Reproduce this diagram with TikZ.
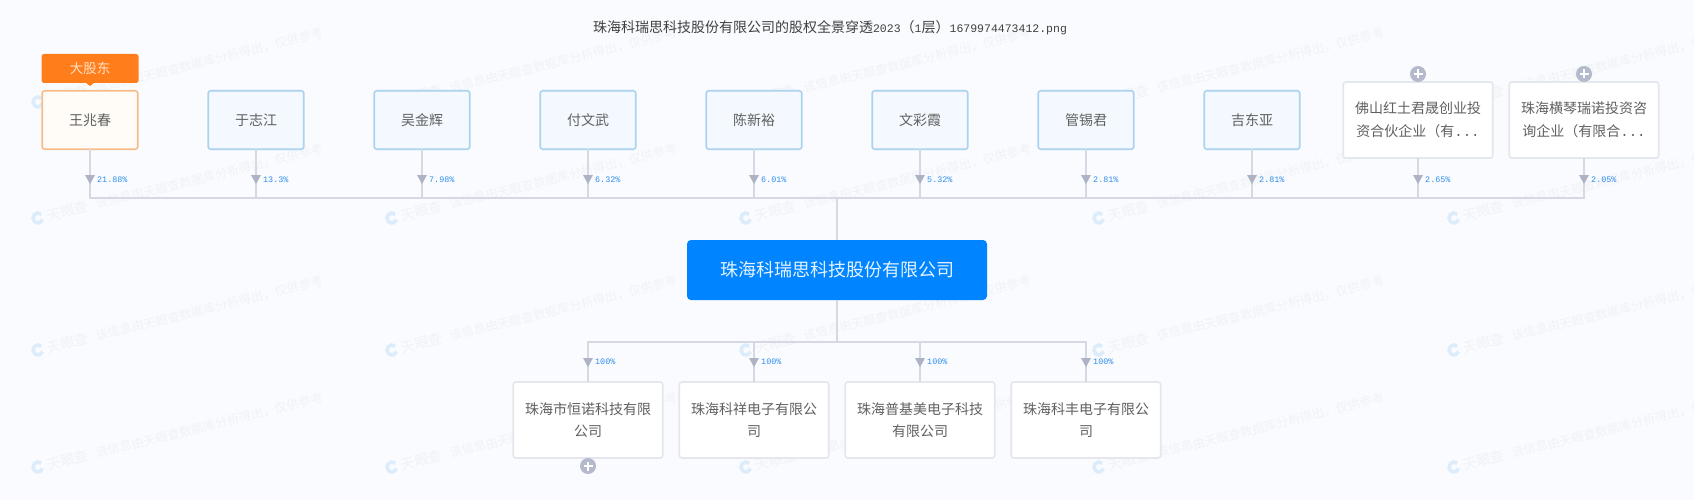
\documentclass[tikz,border=0pt]{standalone}
\usepackage{fontspec}
\setmainfont{Noto Sans CJK SC}
\newfontfamily\monof{Liberation Mono}
\definecolor{bgc}{HTML}{FAFBFE}
\definecolor{wmc}{HTML}{F0F2F6}
\definecolor{wmlogo}{HTML}{DCECFB}
\definecolor{linec}{HTML}{D5D9E3}
\definecolor{tric}{HTML}{ADB2C4}
\definecolor{txtc}{HTML}{606060}
\definecolor{pctc}{HTML}{2E8FEE}
\definecolor{plusc}{HTML}{B4BACB}
\definecolor{bluedraw}{HTML}{ABD2EF}
\definecolor{bluefill}{HTML}{F3F9FE}
\definecolor{orangedraw}{HTML}{F5BC8C}
\definecolor{orangefill}{HTML}{FFFBF7}
\definecolor{whitedraw}{HTML}{E4E7EE}
\definecolor{corefill}{HTML}{0084FF}
\definecolor{tagfill}{HTML}{FF7D1A}
\definecolor{tagtext}{HTML}{FFE3C8}
\tikzset{
  boxbase/.style={rounded corners=2.5pt,line width=1.6pt,outer sep=0pt,inner sep=0pt,align=center,text=txtc,font=\fontsize{14}{22.5}\selectfont},
  bluebox/.style={boxbase,draw=bluedraw,fill=bluefill,minimum width=95.5pt,minimum height=58.5pt},
  orangebox/.style={boxbase,draw=orangedraw,fill=orangefill,minimum width=95.5pt,minimum height=58.5pt},
  whitebox/.style={boxbase,draw=whitedraw,fill=white,minimum width=149.5pt,minimum height=76pt},
  corebox/.style={rounded corners=4pt,fill=corefill,text=white!90!corefill,minimum width=300pt,minimum height=60pt,outer sep=0pt,inner sep=0pt,font=\fontsize{18}{22}\selectfont},
  tagbox/.style={rounded corners=2.5pt,fill=tagfill,text=tagtext,minimum width=97pt,minimum height=29pt,outer sep=0pt,inner sep=0pt,font=\fontsize{13.5}{16}\selectfont},
  link/.style={draw=linec,line width=1.6pt},
  pct/.style={anchor=west,inner sep=0pt,text=pctc,font=\monof\fontsize{8.4}{10}\selectfont},
  plusdot/.style={circle,fill=plusc,minimum size=16pt,inner sep=0pt,outer sep=0pt},
  wm/.style={anchor=west,inner sep=0pt,rotate=14,text=wmc,font=\fontsize{12.3}{14}\selectfont},
}
\begin{document}
\begin{tikzpicture}[x=1pt,y=-1pt]
\useasboundingbox (0,0) rectangle (1694,500);
\fill[bgc] (0,0) rectangle (1694,500);
% watermarks
\foreach \wy in {102,218,350,467}{
  \foreach \wx in {38,392,746,1099,1454}{
    \draw[wmlogo,line width=3.5pt] (\wx,\wy) ++(50:5pt) arc[start angle=50,end angle=340,radius=5pt];
    \node[wm] (w\wx\wy) at (\wx+9,\wy-2) {\fontsize{14}{14}\selectfont 天眼查\hspace{8pt}\fontsize{12.3}{14}\selectfont 该信息由天眼查数据库分析得出，仅供参考};
  }
}
% title
\node[inner sep=0pt,text=black!75,font=\fontsize{14}{16}\selectfont] (title) at (830,28)
  {珠海科瑞思科技股份有限公司的股权全景穿透{\monof\fontsize{11.5}{14}\selectfont 2023}（{\monof\fontsize{11.5}{14}\selectfont 1}层）{\monof\fontsize{11.5}{14}\selectfont 1679974473412.png}};
% junctions
\coordinate (topbus) at (837,198);
\coordinate (botbus) at (837,342);
% core
\node[corebox] (core) at (837,270) {珠海科瑞思科技股份有限公司};
% top row
\foreach \i/\x/\nm/\st in {1/90/王兆春/orangebox,2/256/于志江/bluebox,3/422/吴金辉/bluebox,4/588/付文武/bluebox,5/754/陈新裕/bluebox,6/920/文彩霞/bluebox,7/1086/管锡君/bluebox,8/1252/吉东亚/bluebox}{
  \node[\st] (p\i) at (\x,120) {\nm};
}
\node[whitebox] (p9) at (1418,120) {佛山红土君晟创业投\\资合伙企业（有{\monof ...}};
\node[whitebox] (p10) at (1584,120) {珠海横琴瑞诺投资咨\\询企业（有限合{\monof ...}};
\node[plusdot] (e9) at (1418,74) {};
\node[plusdot] (e10) at (1584,74) {};
% bottom row
\node[whitebox] (s1) at (588,420) {珠海市恒诺科技有限\\公司};
\node[whitebox] (s2) at (754,420) {珠海科祥电子有限公\\司};
\node[whitebox] (s3) at (920,420) {珠海普基美电子科技\\有限公司};
\node[whitebox] (s4) at (1086,420) {珠海科丰电子有限公\\司};
\node[plusdot] (e1) at (588,466) {};
% plus signs
\foreach \n in {e9,e10,e1}{
  \fill[white] ([xshift=-4.5pt,yshift=-1pt]\n.center) rectangle ([xshift=4.5pt,yshift=1pt]\n.center);
  \fill[white] ([xshift=-1pt,yshift=-4.5pt]\n.center) rectangle ([xshift=1pt,yshift=4.5pt]\n.center);
}
% connectors
\foreach \i in {1,...,10}{
  \draw[link] (p\i.south) |- (topbus);
}
\draw[link] (topbus) -- (core.north);
\draw[link] (core.south) -- (botbus);
\foreach \i in {1,...,4}{
  \draw[link] (botbus) -| (s\i.north);
}
% shareholding labels and markers
\foreach \i/\v in {1/21.88\%,2/13.3\%,3/7.98\%,4/6.32\%,5/6.01\%,6/5.32\%,7/2.81\%,8/2.81\%,9/2.65\%,10/2.05\%}{
  \fill[tric] ([xshift=-5pt]p\i.south |- 0,175) -- ([xshift=5pt]p\i.south |- 0,175) -- (p\i.south |- 0,184) -- cycle;
  \node[pct] (l\i) at ([xshift=7pt]p\i.south |- 0,180) {\v};
}
\foreach \i in {1,...,4}{
  \fill[tric] ([xshift=-5pt]s\i.north |- 0,358) -- ([xshift=5pt]s\i.north |- 0,358) -- (s\i.north |- 0,367) -- cycle;
  \node[pct] (m\i) at ([xshift=7pt]s\i.north |- 0,362) {100\%};
}
% tag
\node[tagbox] (tag) at (90,68.5) {大股东};
\fill[tagfill] (85.5,82.5) -- (94.5,82.5) -- (90,86) -- cycle;
\end{tikzpicture}
\end{document}
